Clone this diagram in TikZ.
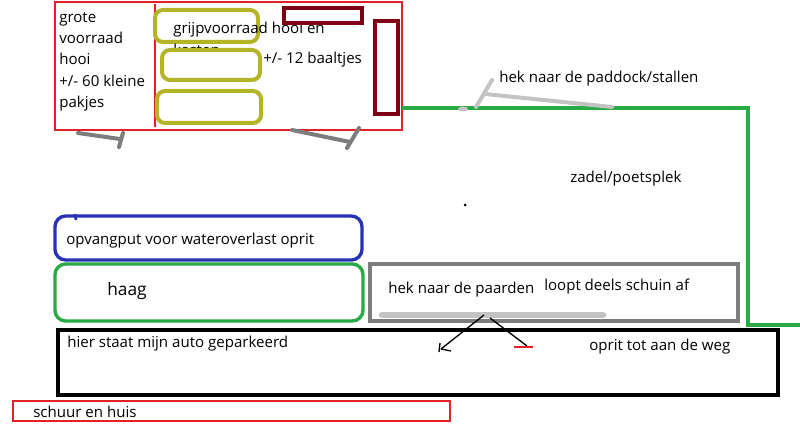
\documentclass[tikz,border=0pt]{standalone}
\usepackage{fontspec}
\setmainfont{Open Sans}
\definecolor{pred}{RGB}{230,30,40}
\definecolor{olive2}{RGB}{180,180,40}
\definecolor{dred}{RGB}{125,0,20}
\definecolor{pgreen}{RGB}{40,170,70}
\definecolor{pblue}{RGB}{40,50,180}
\definecolor{pgray}{RGB}{125,125,125}
\definecolor{lgray}{RGB}{195,195,195}
\tikzset{x=0.75pt,y=-0.75pt,
 lbl/.style={anchor=west,inner sep=0pt,font=\fontsize{11.3}{16}\selectfont,align=left},
 obox/.style={draw=olive2,line width=3pt,rounded corners=6pt,fill=white},
 rbox/.style={line width=2.5pt,rounded corners=8pt}}
\begin{document}
\begin{tikzpicture}
\useasboundingbox (0,0) rectangle (800,424);
% top shed
\draw[pred,line width=2pt] (55,2) rectangle (402,130);
\draw[pred,line width=2pt] (155,4) -- (155,127);
\node[lbl,anchor=north west] (grote) at (59,12) {grote\\voorraad\\hooi\\+/- 60 kleine\\pakjes};
\draw[obox] (155,10) rectangle (258,42);
\node[lbl,anchor=north west,font=\fontsize{11.3}{16.5}\selectfont] (grijp) at (173,22) {grijpvoorraad hooi en\\kasten};
\draw[obox] (162,50) rectangle (260,80);
\draw[obox] (157,91) rectangle (261,123);
\node[lbl] (baal) at (263,60) {+/- 12 baaltjes};
\draw[dred,line width=3pt] (284,8) rectangle (362,23);
\draw[dred,line width=3pt] (375,21) rectangle (398,114);
% gray marks
\draw[pgray,line width=3pt,line cap=round] (78,133) -- (120,139);
\draw[pgray,line width=3pt,line cap=round] (123,133) -- (119,147);
\draw[pgray,line width=3pt,line cap=round] (292,130) -- (350,142);
\draw[pgray,line width=3pt,line cap=round] (359,128) -- (347,148);
% green fence
\draw[pgreen,line width=3pt] (402,108) -- (748,108) -- (748,325) -- (800,325);
\draw[lgray,line width=3pt,line cap=round] (476,107) -- (492,80);
\draw[lgray,line width=3pt,line cap=round] (485,94) -- (612,107);
\fill[lgray] (463,109) ellipse (5 and 2.5);
\node[lbl] (paddock) at (499,79) {hek naar de paddock/stallen};
\node[lbl] (zadel) at (570,179) {zadel/poetsplek};
\fill (465,205) circle (1.5);
% blue
\draw[pblue,rbox] (55,216) rectangle (362,260);
\draw[pblue,line width=2pt] (75,214) -- (76,220);
\node[lbl] (opv) at (66,241) {opvangput voor wateroverlast oprit};
% green hedge
\draw[pgreen,rbox] (55,264) rectangle (363,321);
\node[lbl,font=\fontsize{13}{14}\selectfont] (haag) at (107,291) {haag};
% gray gate box
\draw[pgray,line width=3pt] (370,264) rectangle (738,321);
\node[lbl] (paarden) at (388,290) {hek naar de paarden};
\node[lbl] (schuin) at (544,287) {loopt deels schuin af};
\draw[lgray,line width=5pt,line cap=round] (382,315) -- (603,315);
\coordinate (g1) at (484,315);
\coordinate (g2) at (490,318);
\coordinate (a1) at (441,349);
\coordinate (a2) at (527,346);
\draw[black,line width=1pt] (g1) -- (a1);
\draw[black,line width=1pt] (439,352) -- (440,343) (441,349) -- (451,351);
\draw[black,line width=1pt] (g2) -- (a2);
\draw[pred,line width=1.5pt] (514,347) -- (533,347);
% driveway
\draw[black,line width=2.5pt] (58,330) rectangle (778,395);
\node[lbl] (auto) at (67,344) {hier staat mijn auto geparkeerd};
\node[lbl] (oprit) at (589,347) {oprit tot aan de weg};
% house
\draw[pred,line width=2pt] (13,401) rectangle (450,421);
\node[lbl] (huis) at (33,412) {schuur en huis};
\end{tikzpicture}
\end{document}
